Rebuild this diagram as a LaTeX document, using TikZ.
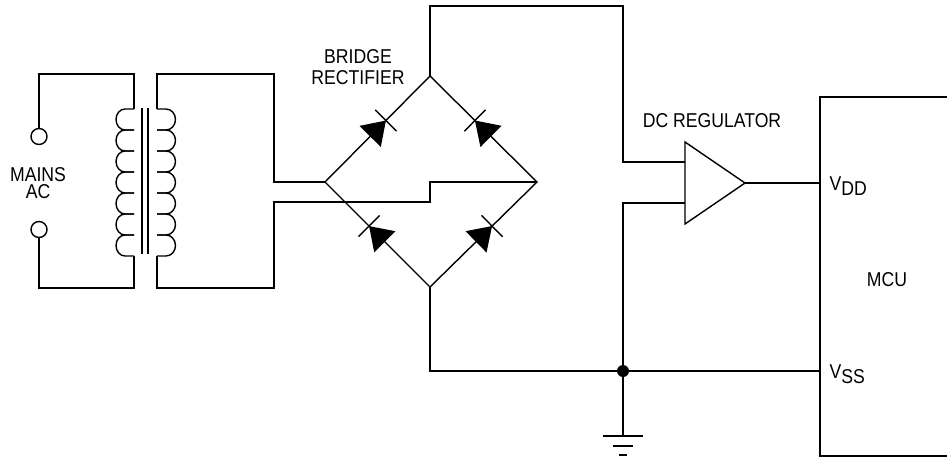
\documentclass[tikz,border=0pt]{standalone}
\usepackage{fontspec}
\setmainfont{Liberation Sans}[FakeStretch=0.88]
\usepackage{tikz}
\usetikzlibrary{calc}

\tikzset{
  wire/.style={line width=0.8pt},
  lbl/.style={inner sep=0pt, font=\fontsize{11.4}{12}\selectfont},
}

\begin{document}
\begin{tikzpicture}[x=0.02cm, y=-0.02cm, wire]
        \useasboundingbox (0,0) rectangle (947,457);

        % Key points
        \coordinate (acA) at (39,136.5);
        \coordinate (acB) at (39,229.5);
        \coordinate (brtop) at (430,76);
        \coordinate (brleft) at (325,182);
        \coordinate (brright) at (537,182);
        \coordinate (brbot) at (430,287);
        \coordinate (regin1) at (685,162);
        \coordinate (regin2) at (685,203);
        \coordinate (regout) at (745,183);
        \coordinate (vdd) at (820,183);
        \coordinate (vss) at (820,371);
        \coordinate (junc) at (623,371);
        \coordinate (gnd) at (623,436);

        % Mains terminals
        \draw (acA) circle (0.16cm);
        \draw (acB) circle (0.16cm);
        \draw ($(acA)+(0,-8.5)$) |- (134,74) -- (134,109);
        \draw ($(acB)+(0,8)$) |- (134,288) -- (134,256);
        \node[lbl, align=center, anchor=north, font=\fontsize{11.4}{9.3}\selectfont] (mains) at (38,167) {MAINS\\AC};

        % Transformer windings
        \foreach \i in {0,...,6} {
          \draw (134,109+21*\i) -- (125,109+21*\i)
            arc[start angle=90, end angle=270, x radius=0.18cm, y radius=0.21cm] -- (134,130+21*\i);
          \draw (157,109+21*\i) -- (166,109+21*\i)
            arc[start angle=90, end angle=-90, x radius=0.19cm, y radius=0.21cm] -- (157,130+21*\i);
        }
        % Core
        \draw (142,108) -- (142,254);
        \draw (148,108) -- (148,254);

        % Secondary to bridge
        \draw (157,109) |- (274,74) |- (brleft);
        \draw (157,256) |- (274,288) |- (430,202) |- (brright);

        % Bridge rectifier
        \draw (brleft) -- (brtop) -- (brright) -- (brbot) -- cycle;
        \foreach \a/\b in {brleft/brtop, brright/brtop, brbot/brleft, brbot/brright} {
          \fill ($(\a)!0.58!(\b)$) -- ($(\a)!0.43!(\b)!0.3cm!90:(\b)$)
            -- ($(\a)!0.43!(\b)!0.3cm!-90:(\b)$) -- cycle;
          \draw ($(\a)!0.58!(\b)!0.3cm!90:(\b)$) -- ($(\a)!0.58!(\b)!0.3cm!-90:(\b)$);
        }
        \node[lbl, align=center, anchor=north, font=\fontsize{11.4}{12}\selectfont] (bridge) at (358,49) {BRIDGE\\RECTIFIER};

        % DC regulator
        \draw (brtop) |- (623,6) |- (regin1);
        \draw (junc) |- (regin2);
        \draw (685,142) -- (regout) -- (685,224) -- cycle;
        \draw (regout) -- (vdd);
        \node[lbl, anchor=base] (reg) at (712,127) {DC REGULATOR};

        % Return path and ground
        \draw (brbot) |- (vss);
        \fill (junc) circle (0.12cm);
        \draw (junc) -- (gnd);
        \draw ($(gnd)+(-20,0)$) -- ($(gnd)+(20,0)$);
        \draw ($(gnd)+(-10,10)$) -- ($(gnd)+(10,10)$);
        \draw ($(gnd)+(-4,19)$) -- ($(gnd)+(4,19)$);

        % MCU
        \draw (947,97) -- (820,97) -- (820,455.8) -- (947,455.8);
        \node[lbl, anchor=base west] (vddlbl) at (829,190) {V\raisebox{-0.1cm}{DD}};
        \node[lbl, anchor=base west] (vsslbl) at (829,378) {V\raisebox{-0.1cm}{SS}};
        \node[lbl, anchor=base] (mcu) at (887,286) {MCU};
\end{tikzpicture}
\end{document}
